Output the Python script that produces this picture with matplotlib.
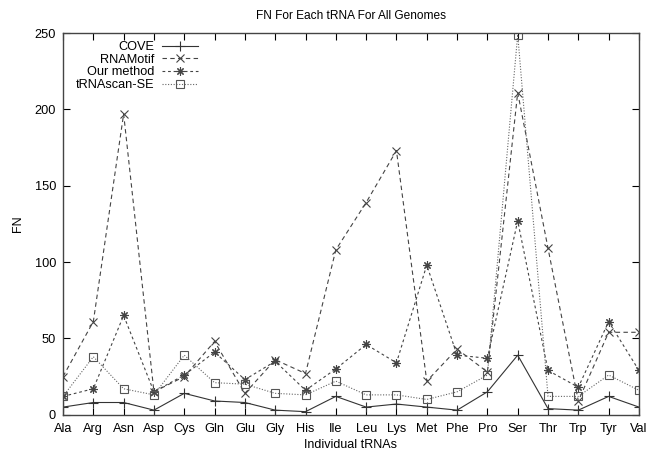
import numpy as np
import matplotlib
matplotlib.use("Agg")
from matplotlib import pyplot as plt

plt.rcParams['font.family'] = ['Liberation Sans', 'DejaVu Sans']

trnas = ['Ala', 'Arg', 'Asn', 'Asp', 'Cys', 'Gln', 'Glu', 'Gly', 'His', 'Ile',
         'Leu', 'Lys', 'Met', 'Phe', 'Pro', 'Ser', 'Thr', 'Trp', 'Tyr', 'Val']

cove = [5, 8, 8, 3, 14, 9, 8, 3, 2, 12, 5, 7, 5, 3, 15, 39, 4, 3, 12, 5]
rnamotif = [25, 61, 197, 15, 25, 48, 14, 36, 27, 108, 139, 173, 22, 43, 28, 211, 109, 9, 54, 54]
our_method = [12, 17, 65, 15, 26, 41, 23, 35, 16, 30, 46, 34, 98, 39, 37, 127, 29, 18, 61, 29]
trnascan = [12, 38, 17, 13, 39, 21, 20, 14, 13, 22, 13, 13, 10, 15, 26, 249, 12, 12, 26, 16]

x = np.arange(len(trnas))

fig = plt.figure(figsize=(6.53, 4.53), dpi=100)
ax = fig.add_axes([0.0965, 0.0845, 0.882, 0.8425])

ax.plot(x, cove, color='#333333', lw=0.8, ls='-', marker='+', ms=6.5, mew=0.8, label='COVE')
ax.plot(x, rnamotif, color='#444444', lw=0.8, ls=(0, (4, 3)), marker='x', ms=5.5, mew=0.8, label='RNAMotif')
ax.plot(x, our_method, color='#444444', lw=0.8, ls=(0, (2.5, 2.5)), marker=(8, 2, 0), ms=6, mew=0.8,
        label='Our method')
ax.plot(x, trnascan, color='#666666', lw=0.8, ls=(0, (1, 1.5)), marker='s', ms=5.5, mew=0.8,
        mfc='none', mec='#555555', label='tRNAscan-SE')

ax.set_xlim(0, len(trnas) - 1)
ax.set_ylim(0, 250)
ax.set_xticks(x)
ax.set_xticklabels(trnas)
ax.set_yticks(np.arange(0, 251, 50))
ax.tick_params(direction='in', top=True, right=True, length=5, width=0.8, labelsize=9.2)
ax.tick_params(axis='x', pad=6)
ax.tick_params(axis='y', pad=5)
for s in ax.spines.values():
    s.set_linewidth(1.0)
    s.set_color('#444444')

ax.set_xlabel('Individual tRNAs', fontsize=9, labelpad=3)
ax.set_ylabel('FN', fontsize=9, labelpad=8)
ax.set_title('FN For Each tRNA For All Genomes', fontsize=8.6, pad=10)

ax.legend(loc='upper right', bbox_to_anchor=(0.234, 0.979), frameon=False, markerfirst=False,
          fontsize=9.2, handlelength=2.8, labelspacing=0.05, handletextpad=0.6,
          borderaxespad=0, borderpad=0)

plt.savefig('out.png', dpi=100)
